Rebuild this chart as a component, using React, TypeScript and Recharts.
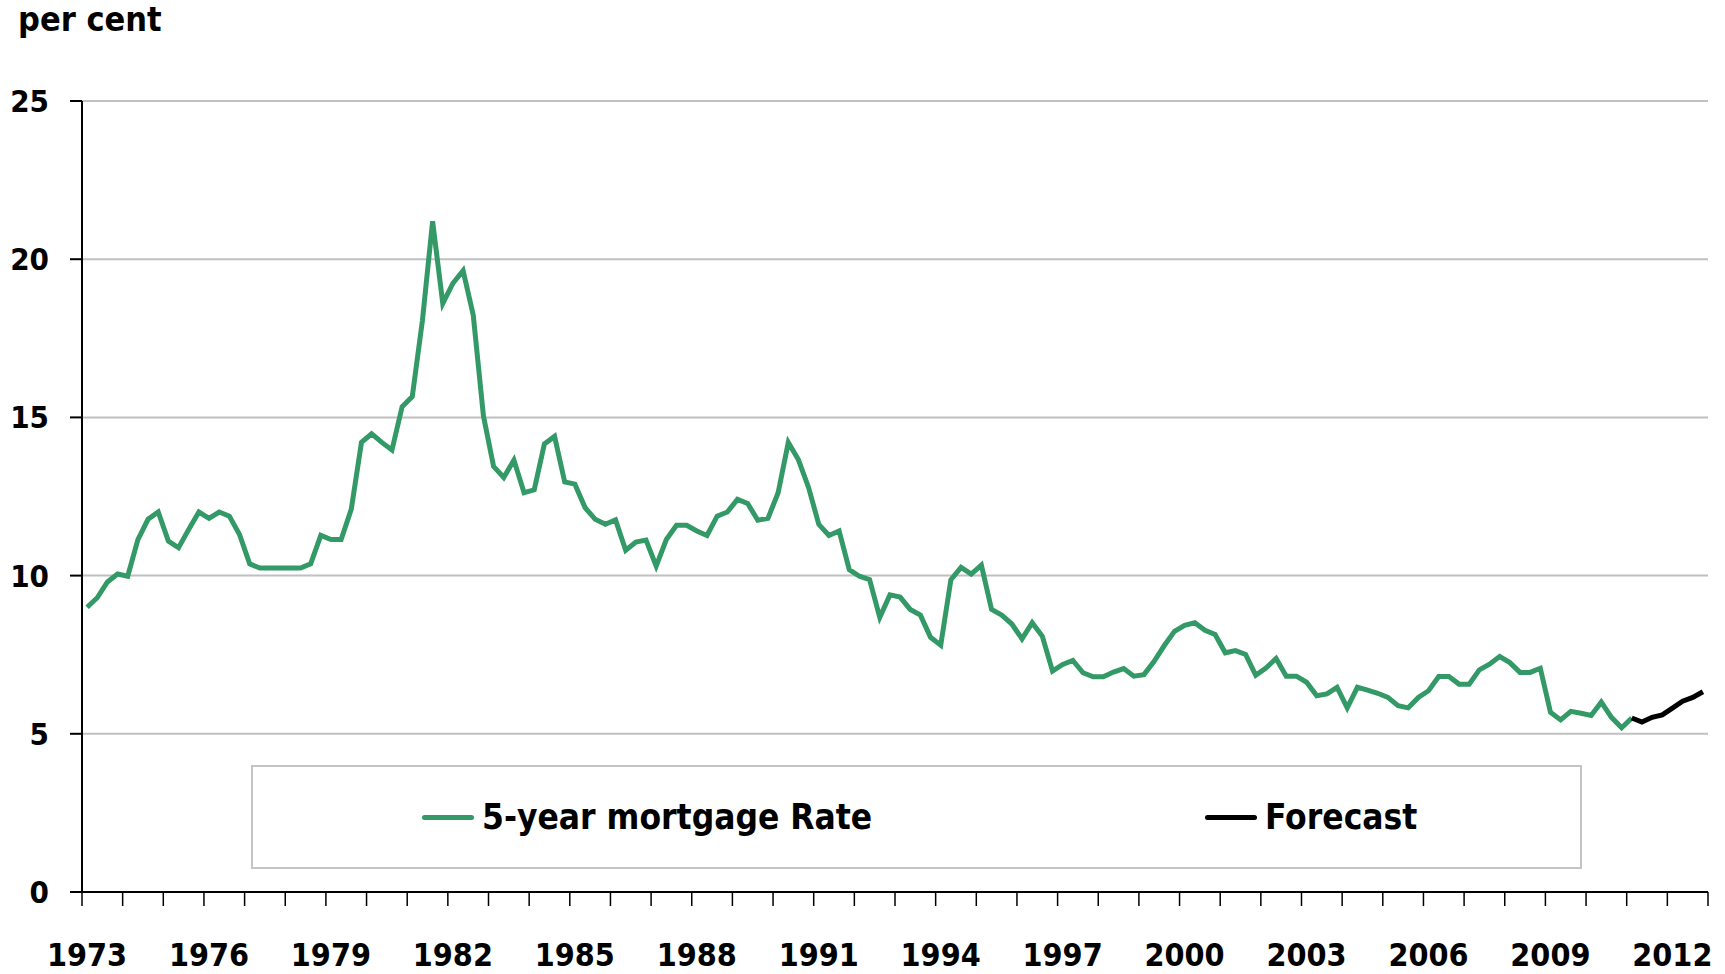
import React from "react";
import { LineChart, Line, XAxis, YAxis, CartesianGrid } from "recharts";

// quarterly 5-year mortgage rate, 1973Q1 .. 2011Q1 (per cent)
const rate = [
    9.0, 9.3, 9.8, 10.05, // 1973
    9.98, 11.14, 11.78, 12.01, // 1974
    11.09, 10.88, 11.46, 12.01, // 1975
    11.81, 12.01, 11.88, 11.3, // 1976
    10.37, 10.24, 10.24, 10.24, // 1977
    10.24, 10.24, 10.37, 11.27, // 1978
    11.14, 11.14, 12.1, 14.21, // 1979
    14.48, 14.21, 13.97, 15.34, // 1980
    15.66, 18.07, 21.2, 18.6, // 1981
    19.24, 19.64, 18.23, 15.05, // 1982
    13.45, 13.1, 13.65, 12.62, // 1983
    12.71, 14.16, 14.4, 12.96, // 1984
    12.89, 12.15, 11.78, 11.62, // 1985
    11.76, 10.8, 11.06, 11.12, // 1986
    10.3, 11.14, 11.59, 11.59, // 1987
    11.41, 11.27, 11.88, 12.01, // 1988
    12.41, 12.28, 11.75, 11.81, // 1989
    12.62, 14.21, 13.66, 12.78, // 1990
    11.62, 11.27, 11.41, 10.19, // 1991
    9.98, 9.87, 8.68, 9.39, // 1992
    9.32, 8.93, 8.75, 8.05, // 1993
    7.8, 9.87, 10.26, 10.05, // 1994
    10.33, 8.93, 8.75, 8.47, // 1995
    8.0, 8.51, 8.08, 6.98, // 1996
    7.19, 7.32, 6.93, 6.8, // 1997
    6.8, 6.95, 7.06, 6.82, // 1998
    6.87, 7.29, 7.79, 8.24, // 1999
    8.43, 8.51, 8.27, 8.14, // 2000
    7.56, 7.63, 7.51, 6.85, // 2001
    7.08, 7.38, 6.82, 6.82, // 2002
    6.63, 6.2, 6.26, 6.47, // 2003
    5.82, 6.47, 6.38, 6.28, // 2004
    6.15, 5.89, 5.82, 6.15, // 2005
    6.36, 6.81, 6.81, 6.57, // 2006
    6.57, 7.02, 7.2, 7.44, // 2007
    7.25, 6.94, 6.94, 7.07, // 2008
    5.68, 5.44, 5.71, 5.65, // 2009
    5.58, 6.0, 5.52, 5.19, // 2010
    5.5, // 2011
]

// forecast 2011Q1 .. 2012Q4
const forecast = [5.5, 5.37, 5.52, 5.6, 5.81, 6.03, 6.15, 6.33]

const firstYear = 1973
const lastYear = 2013
const quarterCount = (lastYear - firstYear) * 4
const forecastStart = rate.length - 1

const seriesNames = ['5-year mortgage Rate', 'Forecast']
const seriesColors = ['#339966', '#000000']

const yTicks = [0, 5, 10, 15, 20, 25]
const labelYears = [1973, 1976, 1979, 1982, 1985, 1988, 1991, 1994, 1997, 2000, 2003, 2006, 2009, 2012]
const yearTicks = Array.from({ length: lastYear - firstYear + 1 }, (_, i) => firstYear + i)

const data = Array.from({ length: quarterCount }, (_, i) => ({
    t: firstYear + (i + 0.5) / 4,
    rate: i < rate.length ? rate[i] : null,
    forecast: i >= forecastStart ? forecast[i - forecastStart] : null
}))

const FONT = "'DejaVu Sans Condensed', 'DejaVu Sans', sans-serif"

const YearTick = (props: any) => {
    const { x, y, payload } = props
    if (!labelYears.includes(payload.value)) return <g />
    // labels sit over the first quarter of the year
    return (
        <text x={x + 5} y={y} dy="0.71em" textAnchor="middle" fill="#000"
            fontSize={32} fontWeight="bold" fontFamily={FONT}>
            {payload.value}
        </text>
    )
}

const LegendItem = ({ name, color, left }: { name: string, color: string, left: number }) => (
    <div style={{ position: 'absolute', left, top: 0, height: '100%', display: 'flex', alignItems: 'center' }}>
        <div style={{ width: 52, height: 5, borderRadius: 3, background: color, marginRight: 8 }} />
        <span style={{ fontSize: 35, fontWeight: 'bold', color: '#000', whiteSpace: 'nowrap' }}>{name}</span>
    </div>
)

const App = () => {
    return (
        <div style={{ position: 'absolute', left: 0, top: 0, width: 1725, height: 974, fontFamily: FONT }}>
            <div style={{ position: 'absolute', left: 18, top: 2, fontSize: 34, lineHeight: '34px', fontWeight: 'bold', color: '#000' }}>
                per cent
            </div>
            <LineChart
                width={1725}
                height={974}
                data={data}
                margin={{ top: 101, right: 17, bottom: 0, left: 0 }}>
                <CartesianGrid vertical={false} stroke="#c0c0c0" strokeWidth={2} />
                <XAxis
                    dataKey="t"
                    type="number"
                    domain={[firstYear, lastYear]}
                    ticks={yearTicks}
                    interval={0}
                    height={82}
                    tickSize={14}
                    tickMargin={37}
                    axisLine={{ stroke: '#000', strokeWidth: 2 }}
                    tickLine={{ stroke: '#000', strokeWidth: 1.5 }}
                    tick={<YearTick />}
                />
                <YAxis
                    type="number"
                    domain={[0, 25]}
                    ticks={yTicks}
                    interval={0}
                    width={82}
                    tickSize={12}
                    tickMargin={21}
                    axisLine={{ stroke: '#000', strokeWidth: 2 }}
                    tickLine={{ stroke: '#000', strokeWidth: 2 }}
                    tick={{ fill: '#000', fontSize: 31, fontWeight: 'bold', fontFamily: FONT }}
                />
                <Line type="linear" dataKey="rate" name={seriesNames[0]} stroke={seriesColors[0]}
                    strokeWidth={5} dot={false} isAnimationActive={false} />
                <Line type="linear" dataKey="forecast" name={seriesNames[1]} stroke={seriesColors[1]}
                    strokeWidth={5} dot={false} isAnimationActive={false} />
            </LineChart>
            <div style={{
                position: 'absolute', left: 251, top: 765, width: 1331, height: 104,
                border: '2px solid #c4c4c4', boxSizing: 'border-box', background: '#fff'
            }}>
                <LegendItem name={seriesNames[0]} color={seriesColors[0]} left={169} />
                <LegendItem name={seriesNames[1]} color={seriesColors[1]} left={952} />
            </div>
        </div>
    )
}

export default App
